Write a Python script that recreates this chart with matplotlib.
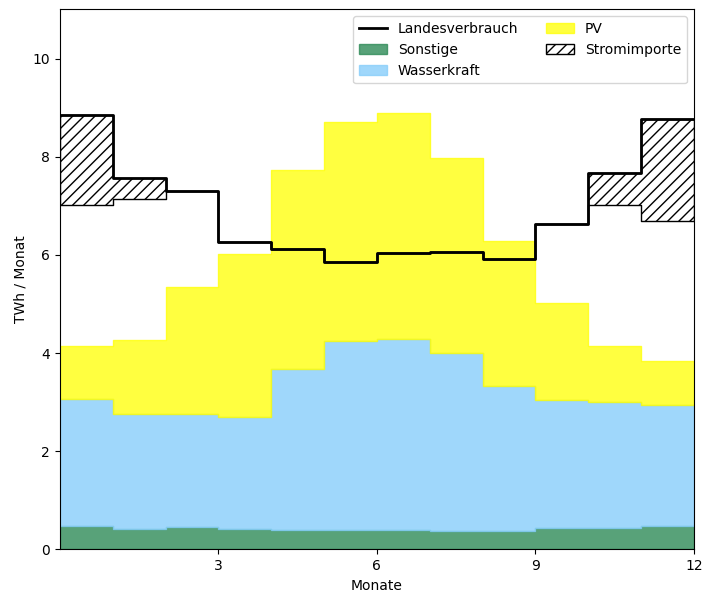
import numpy as np
import matplotlib.pyplot as plt

months = np.arange(13)
sonstige = [0.47, 0.41, 0.46, 0.41, 0.40, 0.39, 0.39, 0.37, 0.38, 0.43, 0.43, 0.48]
wasser_top = [3.06, 2.75, 2.75, 2.69, 3.68, 4.24, 4.29, 4.00, 3.32, 3.05, 3.00, 2.95]
pv_top = [4.14, 4.27, 5.34, 6.02, 7.72, 8.71, 8.90, 7.98, 6.28, 5.02, 4.14, 3.83]
verbrauch = [8.86, 7.56, 7.30, 6.26, 6.12, 5.85, 6.04, 6.05, 5.92, 6.63, 7.67, 8.76]
importe = [1.85, 0.43, 0, 0, 0, 0, 0, 0, 0, 0, 0.66, 2.06]


def ext(v):
    v = np.asarray(v, dtype=float)
    return np.append(v, v[-1])


son = ext(sonstige)
was = ext(wasser_top)
pv = ext(pv_top)
lv = ext(verbrauch)
imp = ext(importe)

fig = plt.figure(figsize=(7.03, 5.92), dpi=100)
ax = fig.add_axes([0.0853, 0.072, 0.9017, 0.912])

ax.fill_between(months, 0, son, step="post", color="seagreen", alpha=0.8, label="Sonstige")
ax.fill_between(months, son, was, step="post", color="lightskyblue", alpha=0.8, label="Wasserkraft")
ax.fill_between(months, was, pv, step="post", color="yellow", alpha=0.75, label="PV")
ax.fill_between(months, lv - imp, lv, step="post", facecolor="white", edgecolor="black",
                hatch="///", linewidth=1, label="Stromimporte")
ax.step(months, lv, where="post", color="black", linewidth=2, label="Landesverbrauch")

ax.set_xlim(0, 12)
ax.set_ylim(0, 11)
ax.set_xticks([3, 6, 9, 12])
ax.set_yticks([0, 2, 4, 6, 8, 10])
ax.set_xlabel("Monate")
ax.set_ylabel("TWh / Monat")

handles, labels = ax.get_legend_handles_labels()
order = [4, 0, 1, 2, 3]
ax.legend([handles[i] for i in order], [labels[i] for i in order], loc="upper right", ncol=2)

fig.savefig("out.png", dpi=100)
